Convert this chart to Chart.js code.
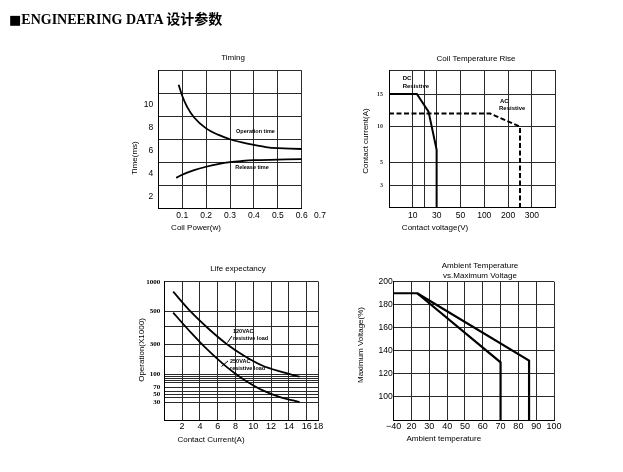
<!DOCTYPE html>
<html>
<head>
<meta charset="utf-8">
<script src="https://cdn.jsdelivr.net/npm/chart.js@4/dist/chart.umd.min.js"></script>
<style>
  html, body { margin: 0; background: #fff; }
  #page { position: relative; width: 623px; height: 472px; overflow: hidden; }
  #page canvas { position: absolute; left: 0; top: 0; }
  h1 { position: absolute; left: 9px; top: 8px; margin: 0; z-index: 2; white-space: nowrap;
       font: bold 14px "Liberation Serif", "Noto Sans CJK SC", serif; color: #000; }
  h1 .sq { font: 13px "DejaVu Sans", sans-serif; }
</style>
</head>
<body>
<div id="page">
  <h1><span class="sq">■</span>ENGINEERING DATA 设计参数</h1>
  <canvas id="timing" width="623" height="472"></canvas>
  <canvas id="coil" width="623" height="472"></canvas>
  <canvas id="life" width="623" height="472"></canvas>
  <canvas id="ambient" width="623" height="472"></canvas>
</div>
<script>
// ---- Timing ----
const opPower = [0.085, 0.1, 0.12, 0.15, 0.2, 0.25, 0.3, 0.35, 0.4, 0.45, 0.5, 0.6, 0.655];
const opTime = [11.75, 10.8, 9.85, 8.9, 7.95, 7.4, 7.0, 6.72, 6.5, 6.32, 6.22, 6.15, 6.15];
const relPower = [0.075, 0.1, 0.15, 0.2, 0.25, 0.3, 0.35, 0.4, 0.5, 0.6, 0.655];
const relTime = [3.63, 3.9, 4.3, 4.6, 4.83, 5.0, 5.1, 5.17, 5.22, 5.27, 5.3];
const timingXTicks = [0, 0.1, 0.2, 0.3, 0.4, 0.5, 0.6];
const timingXLabels = ['', '0.1', '0.2', '0.3', '0.4', '0.5', '0.6'];
const timingYTicks = [1, 2, 3, 4, 5, 6, 7, 8, 9, 10, 11, 12, 13];
const timingYLabels = ['', '2', '', '4', '', '6', '', '8', '', '10', '', '', ''];

// ---- Coil temperature rise ----
const dcVolt = [0, 13.4, 23.2, 30, 30];
const dcAmp = [15, 15, 12.3, 6.8, 1];
const acVolt = [0, 125, 250, 250];
const acAmp = [12, 12, 10, 1];
const coilVoltTicks = [0, 10, 20, 30, 50, 100, 200, 300, 400];
const coilVoltLabels = ['', '10', '', '30', '50', '100', '200', '300', ''];
const coilAmpTicks = [1, 3, 5, 10, 15, 18.5];
const coilAmpLabels = ['', '3', '5', '10', '15', ''];

// ---- Life expectancy ----
const load120Current = [1, 3, 5, 7, 9, 11, 13, 15.2];
const load120Ops = [830, 494, 387, 302, 206, 150, 116, 95];
const load250Current = [1, 2, 3, 4, 5, 6, 7, 8, 9, 11, 13, 15.2];
const load250Ops = [490, 425, 366, 313, 247, 186, 142, 103, 87, 63, 42, 30];
const lead120Current = [7.6, 7.1];
const lead120Ops = [347, 310];
const lead250Current = [7.16, 6.43];
const lead250Ops = [176, 144];
const lifeCurrentTicks = [0, 2, 4, 6, 8, 10, 12, 14, 16, 18];
const lifeCurrentLabels = ['', '2', '4', '6', '8', '10', '12', '14', '16', '18'];
const lifeOpsTicks = [10, 30, 40, 50, 60, 70, 80, 85, 90, 95, 100, 200, 300, 400, 500, 1000];
const lifeOpsLabels = ['', '30', '', '50', '', '70', '', '', '', '', '100', '', '300', '', '500', '1000'];

// ---- Ambient temperature vs max voltage ----
const lineATemp = [-40, 23.2, 70, 70];
const lineAVolt = [190, 190, 130, 80];
const lineBTemp = [23.2, 86, 86];
const lineBVolt = [190, 131.5, 80];
const tempTicks = [-40, 20, 30, 40, 50, 60, 70, 80, 90, 100];
const tempLabels = ['−40', '20', '30', '40', '50', '60', '70', '80', '90', '100'];
const voltTicks = [80, 100, 120, 140, 160, 180, 200];
const voltLabels = ['', '100', '120', '140', '160', '180', '200'];

// linear scale with uneven spacing between given values
class PiecewiseScale extends Chart.LinearScale {
  static id = 'piecewise';
  static defaults = {};
  toPos(v) {
    const { values, positions } = this.options.breaks;
    let i = 1;
    while (i < values.length - 1 && v > values[i]) i++;
    return positions[i - 1] + (v - values[i - 1]) / (values[i] - values[i - 1]) * (positions[i] - positions[i - 1]);
  }
  getPixelForValue(v) {
    if (v === null || v === undefined) return NaN;
    const a = this.toPos(this.min), b = this.toPos(this.max);
    return this.getPixelForDecimal((this.toPos(v) - a) / (b - a));
  }
  getValueForPixel(px) {
    const { values, positions } = this.options.breaks;
    const a = this.toPos(this.min), b = this.toPos(this.max);
    const p = a + this.getDecimalForPixel(px) * (b - a);
    let i = 1;
    while (i < positions.length - 1 && p > positions[i]) i++;
    return values[i - 1] + (p - positions[i - 1]) / (positions[i] - positions[i - 1]) * (values[i] - values[i - 1]);
  }
}
Chart.register(PiecewiseScale);

const SANS = '"Liberation Sans", Arial, sans-serif';
const SERIF = '"Liberation Serif", serif';
const GRID = '#2a2a2a';

function pts(xs, ys) {
  return xs.map((x, i) => ({ x, y: ys[i] }));
}

function axis(o) {
  const horizontal = o.dir === 'x';
  return {
    type: o.type || 'linear',
    min: o.min, max: o.max, bounds: 'data',
    breaks: o.breaks,
    afterBuildTicks: s => { s.ticks = o.ticks.map(v => ({ value: v })); },
    afterFit: s => { if (horizontal) s.height = 30; else s.width = 40; },
    grid: { color: o.gridColor || GRID, lineWidth: 1, drawTicks: false },
    border: { color: '#000', width: 1 },
    ticks: {
      autoSkip: false, maxRotation: 0, minRotation: 0,
      padding: o.pad, color: o.color || '#000',
      font: { family: o.family || SANS, size: o.size || 8.5, weight: o.weight || 'normal' },
      callback: (v, i) => o.labels[i]
    }
  };
}

function textPlugin(items) {
  return {
    id: 'texts',
    afterDraw(chart) {
      const c = chart.ctx;
      items.forEach(t => {
        c.save();
        c.font = t.font || '8px ' + SANS;
        c.fillStyle = '#000';
        c.textAlign = t.align || 'center';
        c.textBaseline = 'middle';
        c.translate(t.x, t.y);
        if (t.rotate) c.rotate(-Math.PI / 2);
        c.fillText(t.text, 0, 0);
        c.restore();
      });
    }
  };
}

function line(data, extra) {
  return Object.assign({
    data, borderColor: '#000', borderWidth: 2, pointRadius: 0, fill: false, tension: 0
  }, extra);
}

function makeChart(id, area, datasets, scales, texts) {
  return new Chart(document.getElementById(id), {
    type: 'line',
    data: { datasets },
    options: {
      responsive: false, animation: false, devicePixelRatio: 1,
      layout: { padding: { left: area.l - 40, top: area.t, right: 623 - area.r, bottom: 472 - area.b - 30 } },
      plugins: { legend: { display: false }, tooltip: { enabled: false }, title: { display: false } },
      scales
    },
    plugins: [textPlugin(texts)]
  });
}

const smallBold = 'bold 5.5px ' + SANS;

makeChart('timing', { l: 158.3, t: 70.5, r: 301.7, b: 208 }, [
  line(pts(opPower, opTime), { clip: false, borderWidth: 1.8, cubicInterpolationMode: 'monotone' }),
  line(pts(relPower, relTime), { clip: false, borderWidth: 1.8, cubicInterpolationMode: 'monotone' })
], {
  x: axis({ dir: 'x', min: 0, max: 0.6, ticks: timingXTicks, labels: timingXLabels, pad: 3 }),
  y: axis({ dir: 'y', min: 1, max: 13, ticks: timingYTicks, labels: timingYLabels, pad: 5,
            gridColor: ctx => (ctx.tick && ctx.tick.value % 2 === 1 ? GRID : 'rgba(0,0,0,0)') })
}, [
  { text: 'Timing', x: 233, y: 58 },
  { text: 'Time(ms)', x: 135, y: 158, rotate: true },
  { text: 'Coil Power(w)', x: 196, y: 228 },
  { text: '0.7', x: 320, y: 216, font: '8.5px ' + SANS },
  { text: 'Operation time', x: 255.5, y: 131, font: smallBold },
  { text: 'Release time', x: 252, y: 167, font: smallBold }
]);

makeChart('coil', { l: 389, t: 70, r: 555.7, b: 207.5 }, [
  line(pts(dcVolt, dcAmp)),
  line(pts(acVolt, acAmp), { borderDash: [5, 2.5] })
], {
  x: axis({ dir: 'x', type: 'piecewise', min: 0, max: 400, ticks: coilVoltTicks, labels: coilVoltLabels, pad: 3,
            breaks: { values: [0, 10, 20, 30, 50, 100, 200, 300, 400], positions: [0, 1, 1.5, 2, 3, 4, 5, 6, 7] } }),
  y: axis({ dir: 'y', type: 'piecewise', min: 1, max: 18.5, ticks: coilAmpTicks, labels: coilAmpLabels, pad: 6,
            family: SERIF, size: 6, weight: 'bold', color: '#333',
            breaks: { values: [1, 3, 5, 10, 15, 18.5], positions: [0, 22.5, 44.8, 80.8, 113.5, 137.5] } })
}, [
  { text: 'Coil Temperature Rise', x: 476, y: 59 },
  { text: 'Contact current(A)', x: 366, y: 141, rotate: true },
  { text: 'Contact voltage(V)', x: 435, y: 227.7 },
  { text: 'DC', x: 402.7, y: 78.3, align: 'left', font: 'bold 6px ' + SANS },
  { text: 'Resistive', x: 402.7, y: 86.7, align: 'left', font: 'bold 6px ' + SANS },
  { text: 'AC', x: 500, y: 101.7, align: 'left', font: 'bold 6px ' + SANS },
  { text: 'Resistive', x: 499, y: 108.3, align: 'left', font: 'bold 6px ' + SANS }
]);

makeChart('life', { l: 164.3, t: 281.7, r: 318.3, b: 420 }, [
  line(pts(load120Current, load120Ops), { borderWidth: 1.8, cubicInterpolationMode: 'monotone' }),
  line(pts(load250Current, load250Ops), { borderWidth: 1.8, cubicInterpolationMode: 'monotone' }),
  line(pts(lead120Current, lead120Ops), { borderWidth: 1 }),
  line(pts(lead250Current, lead250Ops), { borderWidth: 1 })
], {
  x: axis({ dir: 'x', type: 'piecewise', min: 0, max: 18, ticks: lifeCurrentTicks, labels: lifeCurrentLabels, pad: 1, size: 9,
            breaks: { values: [0, 16, 18], positions: [0, 16, 17.3] } }),
  y: axis({ dir: 'y', type: 'piecewise', min: 10, max: 1000, ticks: lifeOpsTicks, labels: lifeOpsLabels, pad: 4,
            family: SERIF, size: 7, weight: 'bold',
            breaks: { values: lifeOpsTicks, positions: [0, 18, 22.3, 25.7, 28.7, 32.7, 37.3, 39.3, 41.3, 43.3, 45.7, 63.3, 75.7, 93.3, 109, 138.3] } })
}, [
  { text: 'Life expectancy', x: 238, y: 269 },
  { text: 'Operation(X1000)', x: 141.7, y: 350, rotate: true },
  { text: 'Contact Current(A)', x: 211, y: 440 },
  { text: '120VAC', x: 233, y: 331, align: 'left', font: smallBold },
  { text: 'resistive load', x: 233, y: 338.5, align: 'left', font: smallBold },
  { text: '250VAC', x: 230, y: 361, align: 'left', font: smallBold },
  { text: 'resistive load', x: 230, y: 368.5, align: 'left', font: smallBold }
]);

makeChart('ambient', { l: 393.7, t: 281.7, r: 554, b: 420 }, [
  line(pts(lineATemp, lineAVolt), { borderWidth: 2.2 }),
  line(pts(lineBTemp, lineBVolt), { borderWidth: 2.2 })
], {
  x: axis({ dir: 'x', type: 'piecewise', min: -40, max: 100, ticks: tempTicks, labels: tempLabels, pad: 1, size: 9,
            breaks: { values: [-40, 20, 100], positions: [10, 20, 100] } }),
  y: axis({ dir: 'y', min: 80, max: 200, ticks: voltTicks, labels: voltLabels, pad: 1, size: 8.5 })
}, [
  { text: 'Ambient Temperature', x: 480, y: 266 },
  { text: 'vs.Maximum Voltage', x: 480, y: 276 },
  { text: 'Maximum Voltage(%)', x: 361, y: 345, rotate: true },
  { text: 'Ambient temperature', x: 443.8, y: 438.3 }
]);
</script>
</body>
</html>
